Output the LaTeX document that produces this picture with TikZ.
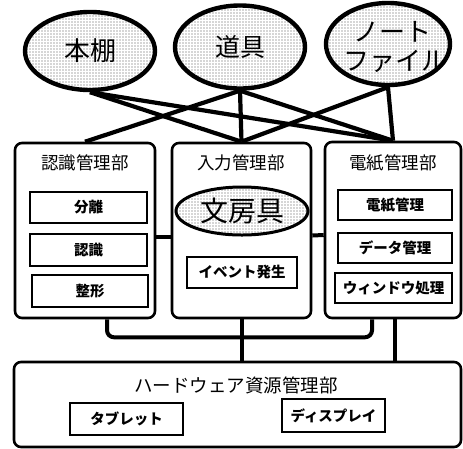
\documentclass[tikz,border=0pt]{standalone}
\usepackage{fontspec}
\setmainfont{Noto Sans CJK JP}
\usetikzlibrary{shapes.geometric,patterns}
\pgfdeclarepatternformonly{stipple}{\pgfqpoint{-1pt}{-1pt}}{\pgfqpoint{1pt}{1pt}}{\pgfqpoint{3pt}{3pt}}{\pgfpathcircle{\pgfqpoint{0pt}{0pt}}{0.7pt}\pgfusepath{fill}}
\begin{document}
\begin{tikzpicture}[x=1pt,y=-1pt,
  oval/.style={ellipse, draw, line width=4.4pt, pattern=stipple, pattern color=black!70, inner sep=0pt},
  mgr/.style={draw, rounded corners=7pt, line width=2.6pt, inner sep=0pt},
  sub/.style={draw, line width=2.4pt, inner sep=0pt, font=\bfseries\fontsize{14.5}{14.5}\selectfont},
  ttl/.style={font=\fontsize{17.5}{17.5}\selectfont, inner sep=0pt},
  big/.style={inner sep=0pt},
  link/.style={line width=4.2pt},
  bus/.style={line width=4pt}
]
\useasboundingbox (0,0) rectangle (463,448);

% manager boxes
\node[mgr, minimum width=140pt, minimum height=175pt] (lbox) at (85,230.5) {};
\node[mgr, minimum width=139pt, minimum height=175pt] (mbox) at (241.5,230.5) {};
\node[mgr, minimum width=136pt, minimum height=176pt] (rbox) at (393,230) {};
\node[mgr, minimum width=447pt, minimum height=85pt] (bbox) at (237.5,404.5) {};

% titles
\node[ttl] (lt) at (85,163) {認識管理部};
\node[ttl] (mt) at (241,163) {入力管理部};
\node[ttl] (rt) at (393,163) {電紙管理部};
\node[ttl, font=\fontsize{18.5}{18.5}\selectfont] (bt) at (236,385) {ハードウェア資源管理部};

% top ellipses
\node[oval, minimum width=130pt, minimum height=78pt] (hon) at (90,51) {};
\node[big, font=\fontsize{26}{26}\selectfont] (honl) at (hon) {本棚};
\node[oval, minimum width=130pt, minimum height=83pt] (dougu) at (240,47) {};
\node[big, font=\fontsize{25}{25}\selectfont] (dougul) at (dougu) {道具};
\node[oval, minimum width=124pt, minimum height=82pt] (note) at (388,44) {};
\node[big, font=\fontsize{26}{26}\selectfont] (notel1) at (392,32) {ノート};
\node[big, font=\fontsize{26}{26}\selectfont] (notel2) at (395,61) {ファイル};

% sub boxes
\node[sub, minimum width=117pt, minimum height=31pt] (s1) at (88.5,207.5) {分離};
\node[sub, minimum width=117pt, minimum height=32pt] (s2) at (88.5,250) {認識};
\node[sub, minimum width=116pt, minimum height=32pt] (s3) at (90,291) {整形};
\node[oval, line width=3pt, minimum width=132pt, minimum height=48pt] (bun) at (242,211) {};
\node[big, font=\fontsize{28}{28}\selectfont] (bunl) at (bun) {文房具};
\node[sub, minimum width=110pt, minimum height=31pt] (ev) at (242,272.5) {イベント発生};
\node[sub, minimum width=114pt, minimum height=30pt] (d1) at (395,205) {電紙管理};
\node[sub, minimum width=114pt, minimum height=30pt] (d2) at (395,248) {データ管理};
\node[sub, minimum width=117pt, minimum height=30pt] (d3) at (393.5,288) {ウィンドウ処理};
\node[sub, minimum width=113pt, minimum height=32pt] (tab) at (126.5,419) {タブレット};
\node[sub, minimum width=103pt, minimum height=33pt] (dis) at (333.5,415.5) {ディスプレイ};

% links ellipses -> managers
\draw[link] (hon.south) -- (mbox.north);
\draw[link] (hon.south) -- (rbox.north);
\draw[link] (dougu.south) -- (lbox.north);
\draw[link] (dougu.south) -- (mbox.north);
\draw[link] (dougu.south) -- (rbox.north);
\draw[link] (note.south) -- (mbox.north);
\draw[link] (note.south) -- (rbox.north);

% side links
\draw[bus] ([yshift=-6pt]lbox.east) -- ([yshift=-6pt]mbox.west);
\draw[bus] ([yshift=-5pt]mbox.east) -- ([yshift=-5pt]rbox.west);

% bottom bus
\draw[bus, rounded corners=7pt] ([xshift=22pt]lbox.south) -- ++(0,18) -| ([xshift=-21pt]rbox.south);
\draw[bus] (mbox.south) -- (mbox.south |- bbox.north);
\draw[bus] ([xshift=2pt]rbox.south) -- ([xshift=2pt]rbox.south |- bbox.north);
\end{tikzpicture}
\end{document}
